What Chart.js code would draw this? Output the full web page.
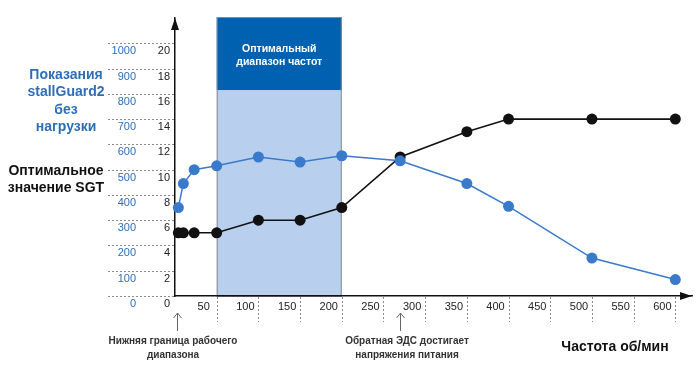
<!DOCTYPE html>
<html>
<head>
<meta charset="utf-8">
<script src="https://cdn.jsdelivr.net/npm/chart.js@4.4.1/dist/chart.umd.min.js"></script>
<style>
  body { margin: 0; background: #fff; }
  #wrap { width: 700px; height: 368px; }
</style>
</head>
<body>
<div id="wrap"><canvas id="myChart"></canvas></div>
<script>
// данные
const rpm = [4, 10, 23, 50, 100, 150, 200, 270, 350, 400, 500, 600];
const sgtOptimal = [5, 5, 5, 5, 6, 6, 7, 11, 13, 14, 14, 14];
const sgReading = [350, 445, 500, 515, 550, 530, 555, 535, 445, 355, 150, 65];

const xTicks = [0, 50, 100, 150, 200, 250, 300, 350, 400, 450, 500, 550, 600];
const sgtTicks = [0, 2, 4, 6, 8, 10, 12, 14, 16, 18, 20];
const sgTicks = [0, 100, 200, 300, 400, 500, 600, 700, 800, 900, 1000];

// оптимальный диапазон частот
const bandFrom = 50;
const bandTo = 200;
const bandSplit = 16.3;
const noteArrows = [2, 270];

const blue = "#3a7acb";
const FONT = "'Liberation Sans', Arial, sans-serif";

function setTicks(values) {
  return (scale) => { scale.ticks = values.map((v) => ({ value: v })); };
}

// ######## рисование фона, подписей и стрелок ########
const decor = {
  id: "decor",
  beforeDraw(chart) {
    const { ctx, chartArea } = chart;
    const x = chart.scales.x, y = chart.scales.y;
    const x1 = x.getPixelForValue(bandFrom), x2 = x.getPixelForValue(bandTo);
    const ySplit = y.getPixelForValue(bandSplit);
    const yTop = chartArea.top - 1, yBot = y.getPixelForValue(0);
    ctx.save();
    ctx.fillStyle = "#b9cfee";
    ctx.fillRect(x1, ySplit, x2 - x1, yBot - ySplit);
    ctx.fillStyle = "#0061b1";
    ctx.fillRect(x1, yTop, x2 - x1, ySplit - yTop);
    ctx.strokeStyle = "#8c8c8c";
    ctx.lineWidth = 1;
    ctx.strokeRect(x1 + 0.5, yTop + 0.5, x2 - x1 - 1, yBot - yTop);
    ctx.fillStyle = "#fff";
    ctx.font = "bold 10.5px " + FONT;
    ctx.textAlign = "center";
    ctx.textBaseline = "middle";
    ctx.fillText("Оптимальный", (x1 + x2) / 2, 49);
    ctx.fillText("диапазон частот", (x1 + x2) / 2, 62);

    // пунктир у делений
    ctx.strokeStyle = "#8a8a8a";
    ctx.setLineDash([2, 2]);
    sgtTicks.forEach((v) => {
      const py = Math.round(y.getPixelForValue(v)) + 0.5;
      ctx.beginPath();
      ctx.moveTo(108, py);
      ctx.lineTo(chartArea.left, py);
      ctx.stroke();
    });
    xTicks.slice(1).forEach((v) => {
      const px = Math.round(x.getPixelForValue(v)) + 0.5;
      ctx.beginPath();
      ctx.moveTo(px, yBot + 1);
      ctx.lineTo(px, yBot + 26);
      ctx.stroke();
    });
    ctx.restore();
  },
  afterDraw(chart) {
    const { ctx, chartArea } = chart;
    const x = chart.scales.x, y = chart.scales.y;
    const ax = chartArea.left, ay = y.getPixelForValue(0);
    ctx.save();
    // стрелки осей
    ctx.fillStyle = "#111";
    ctx.beginPath();
    ctx.moveTo(ax, chartArea.top);
    ctx.lineTo(ax - 4, chartArea.top + 12);
    ctx.lineTo(ax + 4, chartArea.top + 12);
    ctx.fill();
    ctx.beginPath();
    ctx.moveTo(chartArea.right, ay);
    ctx.lineTo(chartArea.right - 12, ay - 4);
    ctx.lineTo(chartArea.right - 12, ay + 4);
    ctx.fill();

    ctx.textAlign = "center";
    ctx.textBaseline = "middle";
    ctx.font = "bold 14px " + FONT;
    ctx.fillStyle = "#2f6eb5";
    ["Показания", "stallGuard2", "без", "нагрузки"].forEach((t, i) => ctx.fillText(t, 66, 75 + i * 17.5));
    ctx.fillStyle = "#111";
    ctx.fillText("Оптимальное", 56, 171);
    ctx.fillText("значение SGT", 56, 188);
    ctx.fillText("Частота об/мин", 615, 347);

    // пояснения снизу
    ctx.strokeStyle = "#666";
    ctx.lineWidth = 1;
    noteArrows.forEach((v) => {
      const px = Math.round(x.getPixelForValue(v)) + 0.5;
      ctx.beginPath();
      ctx.moveTo(px, 331);
      ctx.lineTo(px, 313);
      ctx.moveTo(px - 4, 318);
      ctx.lineTo(px, 313);
      ctx.lineTo(px + 4, 318);
      ctx.stroke();
    });
    ctx.fillStyle = "#333";
    ctx.font = "bold 10px " + FONT;
    ctx.fillText("Нижняя граница рабочего", 173, 341);
    ctx.fillText("диапазона", 173, 355);
    ctx.fillText("Обратная ЭДС достигает", 407, 341);
    ctx.fillText("напряжения питания", 407, 355);
    ctx.restore();
  }
};

const config = {
  type: "line",
  data: {
    datasets: [
      {
        label: "stallGuard2",
        yAxisID: "y2",
        data: rpm.map((r, i) => ({ x: r, y: sgReading[i] })),
        borderColor: blue,
        backgroundColor: blue,
        borderWidth: 1.5,
        pointRadius: 5.5,
        pointBorderWidth: 0,
        clip: false
      },
      {
        label: "SGT",
        yAxisID: "y",
        data: rpm.map((r, i) => ({ x: r, y: sgtOptimal[i] })),
        borderColor: "#111",
        backgroundColor: "#111",
        borderWidth: 1.6,
        pointRadius: 5.5,
        pointBorderWidth: 0,
        clip: false
      }
    ]
  },
  options: {
    responsive: true,
    maintainAspectRatio: false,
    animation: false,
    layout: { padding: { left: 112, top: 18, right: 8, bottom: 0 } },
    plugins: { legend: { display: false }, tooltip: { enabled: false } },
    scales: {
      x: {
        type: "linear",
        min: 0,
        max: 620,
        afterBuildTicks: setTicks(xTicks),
        afterFit: (s) => { s.height = 72; },
        grid: { display: false, drawTicks: false },
        border: { display: true, color: "#111", width: 1.5 },
        ticks: {
          color: "#222", font: { size: 11, family: FONT }, padding: 4, labelOffset: -13, maxRotation: 0,
          callback: (v) => (v === 0 ? "" : String(v))
        }
      },
      y: {
        type: "linear",
        position: "left",
        weight: 0,
        min: 0,
        max: 22,
        afterBuildTicks: setTicks(sgtTicks),
        afterFit: (s) => { s.width = 39; },
        grid: { display: false, drawTicks: false },
        border: { display: true, color: "#111", width: 1.5 },
        ticks: { color: "#222", font: { size: 11, family: FONT }, padding: 5, labelOffset: 8, callback: (v) => String(v) }
      },
      y2: {
        type: "linear",
        position: "left",
        weight: 1,
        min: 0,
        max: 1100,
        afterBuildTicks: setTicks(sgTicks),
        afterFit: (s) => { s.width = 24; },
        grid: { display: false, drawTicks: false },
        border: { display: false },
        ticks: { color: "#2f6eb5", font: { size: 11, family: FONT }, padding: 0, labelOffset: 8, callback: (v) => String(v) }
      }
    }
  },
  plugins: [decor]
};

const myChart = new Chart(document.getElementById("myChart"), config);
</script>
</body>
</html>
